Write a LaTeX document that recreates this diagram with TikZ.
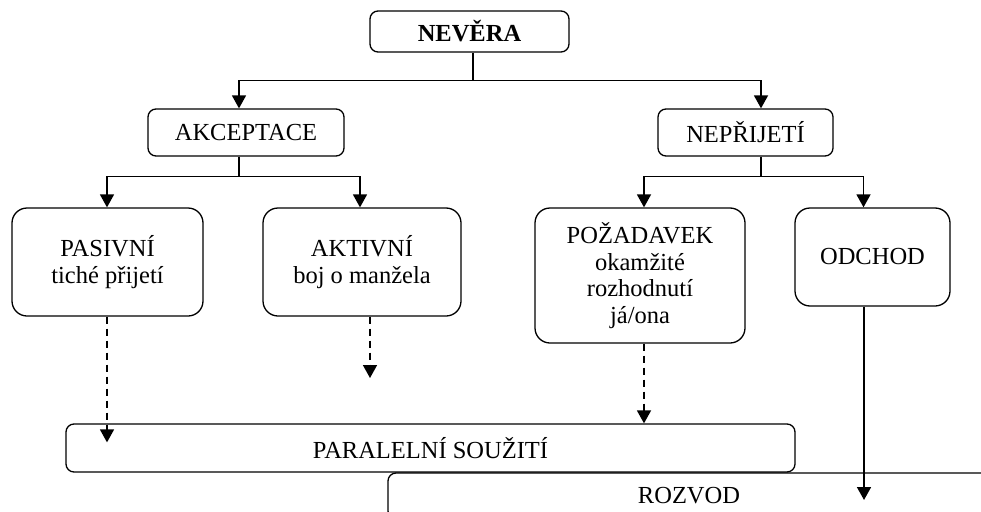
\documentclass[tikz,border=0pt]{standalone}
\usepackage{fontspec}
\setmainfont{Liberation Serif}
\usetikzlibrary{arrows.meta}
\begin{document}
\begin{tikzpicture}[x=1pt,y=-1pt,
  txt/.style={font=\fontsize{24.5}{26.7}\selectfont},
  box/.style={draw,line width=1.3pt,rounded corners=8pt,inner sep=0pt,align=center,txt},
  bigbox/.style={box,rounded corners=15pt},
  conn/.style={line width=1.6pt},
  arr/.style={conn,-{Triangle[width=14pt,length=13pt]}},
  dasharr/.style={arr,dash pattern=on 7pt off 5pt}]
\useasboundingbox (0,0) rectangle (981,511);
\clip (0,0) rectangle (981,511);
% boxes
\node[box,minimum width=199pt,minimum height=41pt,font=\bfseries\fontsize{24.5}{26.7}\selectfont] (nev) at (469.5,31.5) {NEVĚRA};
\node[box,minimum width=196pt,minimum height=47pt] (akc) at (246,132.5) {AKCEPTACE};
\node[box,minimum width=175pt,minimum height=47pt] (nep) at (745.5,132.5) {NEPŘIJETÍ};
\node[bigbox,minimum width=191pt,minimum height=108pt] (pas) at (107.5,262) {PASIVNÍ\\tiché přijetí};
\node[bigbox,minimum width=198pt,minimum height=108pt] (akt) at (362,262) {AKTIVNÍ\\boj o manžela};
\node[bigbox,minimum width=210pt,minimum height=135pt] (poz) at (640,275.5) {POŽADAVEK\\okamžité\\rozhodnutí\\já/ona};
\node[bigbox,minimum width=155pt,minimum height=98pt] (odc) at (872.5,257) {ODCHOD};
\node[box,minimum width=729pt,minimum height=48pt] (par) at (430.5,448) {PARALELNÍ SOUŽITÍ};
\node[box,minimum width=602pt,minimum height=46pt] (roz) at (689,496) {ROZVOD};
% connectors from NEVĚRA
\draw[conn] ([xshift=3.5pt]nev.south) -- ++(0,28) coordinate (n1);
\draw[arr] (n1) -| ([xshift=-7pt]akc.north);
\draw[arr] (n1) -| ([xshift=15.5pt]nep.north);
% from AKCEPTACE
\draw[conn] ([xshift=-7pt]akc.south) -- ++(0,20) coordinate (a1);
\draw[arr] (a1) -| ([xshift=-0.5pt]pas.north);
\draw[arr] (a1) -| ([xshift=-2pt]akt.north);
% from NEPŘIJETÍ
\draw[conn] ([xshift=15.5pt]nep.south) -- ++(0,20) coordinate (b1);
\draw[arr] (b1) -| ([xshift=4pt]poz.north);
\draw[arr] (b1) -| ([xshift=-9pt]odc.north);
% lower arrows
\coordinate (pin) at ([yshift=-19pt]par.north);
\coordinate (pasb) at ([xshift=-0.5pt]pas.south);
\draw[dasharr] (pasb) -- (pasb |- pin);
\coordinate (aktend) at (370,378);
\draw[dasharr] (akt.south -| aktend) -- (aktend);
\coordinate (pozb) at ([xshift=4pt]poz.south);
\draw[dasharr] (pozb) -- (pozb |- par.north);
\coordinate (odcend) at (864,500);
\draw[arr] (odc.south -| odcend) -- (odcend);
\end{tikzpicture}
\end{document}
